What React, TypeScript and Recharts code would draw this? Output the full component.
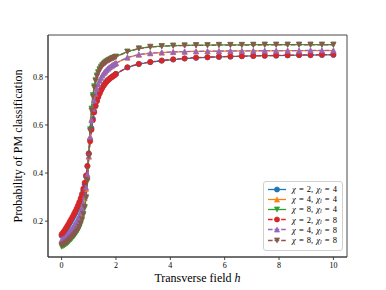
import React from "react";
import { LineChart, Line, XAxis, YAxis, ReferenceArea } from "recharts";

// transverse field h (dense sampling up to 2, then coarse)
const hValues = [
  0, 0.05, 0.1, 0.15, 0.2, 0.25, 0.3, 0.35, 0.4, 0.45, 0.5, 0.55, 0.6, 0.65, 0.7, 0.75, 0.8, 0.85, 0.9, 0.95,
  1, 1.05, 1.1, 1.15, 1.2, 1.25, 1.3, 1.35, 1.4, 1.45, 1.5, 1.55, 1.6, 1.65, 1.7, 1.75, 1.8, 1.85, 1.9, 1.95, 2,
  2.421, 2.842, 3.263, 3.684, 4.105, 4.526, 4.947, 5.368, 5.789, 6.211, 6.632, 7.053, 7.474, 7.895, 8.316,
  8.737, 9.158, 9.579, 10,
];

const chi2l4 = [
  0.14, 0.147, 0.155, 0.163, 0.172, 0.181, 0.191, 0.201, 0.211, 0.221, 0.232, 0.244, 0.257, 0.271, 0.287, 0.305,
  0.327, 0.353, 0.386, 0.428, 0.482, 0.538, 0.587, 0.626, 0.657, 0.682, 0.702, 0.719, 0.733, 0.746, 0.756, 0.765,
  0.773, 0.78, 0.786, 0.791, 0.796, 0.8, 0.804, 0.808, 0.812,
  0.839, 0.853, 0.861, 0.867, 0.872, 0.876, 0.879, 0.881, 0.883, 0.884, 0.886, 0.887, 0.888, 0.888, 0.889, 0.89,
  0.89, 0.891, 0.891,
];
const chi4l4 = [
  0.118, 0.122, 0.126, 0.131, 0.137, 0.144, 0.151, 0.158, 0.166, 0.175, 0.184, 0.193, 0.204, 0.216, 0.23, 0.247,
  0.268, 0.296, 0.334, 0.39, 0.468, 0.552, 0.624, 0.671, 0.705, 0.731, 0.752, 0.77, 0.785, 0.797, 0.807, 0.815,
  0.822, 0.829, 0.834, 0.839, 0.843, 0.847, 0.851, 0.854, 0.857,
  0.88, 0.892, 0.898, 0.901, 0.903, 0.905, 0.906, 0.906, 0.907, 0.907, 0.908, 0.908, 0.908, 0.908, 0.909, 0.909,
  0.909, 0.909, 0.909,
];
const chi8l4 = [
  0.094, 0.096, 0.099, 0.103, 0.107, 0.112, 0.118, 0.124, 0.13, 0.137, 0.144, 0.152, 0.161, 0.172, 0.186, 0.203,
  0.225, 0.254, 0.295, 0.365, 0.47, 0.582, 0.668, 0.724, 0.761, 0.787, 0.806, 0.82, 0.832, 0.842, 0.849, 0.855,
  0.86, 0.864, 0.868, 0.871, 0.874, 0.877, 0.879, 0.882, 0.884,
  0.905, 0.918, 0.925, 0.928, 0.93, 0.931, 0.932, 0.932, 0.933, 0.933, 0.933, 0.934, 0.934, 0.934, 0.934, 0.934,
  0.934, 0.934, 0.934,
];
const chi2l8 = [
  0.145, 0.152, 0.16, 0.169, 0.178, 0.188, 0.198, 0.208, 0.218, 0.229, 0.24, 0.252, 0.265, 0.279, 0.295, 0.313,
  0.335, 0.36, 0.39, 0.43, 0.48, 0.532, 0.58, 0.62, 0.652, 0.678, 0.699, 0.716, 0.731, 0.744, 0.755, 0.764,
  0.772, 0.779, 0.785, 0.79, 0.795, 0.799, 0.803, 0.807, 0.812,
  0.84, 0.854, 0.862, 0.868, 0.873, 0.877, 0.88, 0.882, 0.884, 0.885, 0.886, 0.887, 0.888, 0.889, 0.89, 0.891,
  0.891, 0.892, 0.893,
];
const chi4l8 = [
  0.122, 0.126, 0.13, 0.136, 0.142, 0.149, 0.156, 0.164, 0.172, 0.181, 0.19, 0.2, 0.21, 0.222, 0.237, 0.254,
  0.275, 0.303, 0.34, 0.395, 0.47, 0.55, 0.62, 0.667, 0.702, 0.729, 0.751, 0.769, 0.784, 0.796, 0.806, 0.815,
  0.822, 0.828, 0.834, 0.839, 0.843, 0.847, 0.851, 0.854, 0.857,
  0.881, 0.893, 0.899, 0.902, 0.904, 0.905, 0.906, 0.907, 0.907, 0.908, 0.908, 0.908, 0.909, 0.909, 0.909, 0.909,
  0.91, 0.91, 0.91,
];
const chi8l8 = [
  0.1, 0.102, 0.105, 0.109, 0.113, 0.118, 0.124, 0.13, 0.136, 0.142, 0.149, 0.157, 0.166, 0.177, 0.191, 0.208,
  0.23, 0.259, 0.3, 0.37, 0.47, 0.575, 0.66, 0.717, 0.755, 0.782, 0.801, 0.816, 0.828, 0.838, 0.846, 0.852,
  0.857, 0.862, 0.866, 0.869, 0.872, 0.875, 0.878, 0.88, 0.883,
  0.904, 0.917, 0.924, 0.927, 0.929, 0.93, 0.931, 0.931, 0.932, 0.932, 0.932, 0.932, 0.933, 0.933, 0.933, 0.933,
  0.933, 0.933, 0.933,
];

const xTicks = [0, 2, 4, 6, 8, 10];
const yTicks = [0.2, 0.4, 0.6, 0.8];

type Marker = "circle" | "up" | "down";

const series: { key: string; chi: number; chiL: number; color: string; marker: Marker; dashed: boolean; values: number[] }[] = [
  { key: "c2l4", chi: 2, chiL: 4, color: "#1f77b4", marker: "circle", dashed: false, values: chi2l4 },
  { key: "c4l4", chi: 4, chiL: 4, color: "#ff7f0e", marker: "up", dashed: false, values: chi4l4 },
  { key: "c8l4", chi: 8, chiL: 4, color: "#2ca02c", marker: "down", dashed: false, values: chi8l4 },
  { key: "c2l8", chi: 2, chiL: 8, color: "#d62728", marker: "circle", dashed: true, values: chi2l8 },
  { key: "c4l8", chi: 4, chiL: 8, color: "#9467bd", marker: "up", dashed: true, values: chi4l8 },
  { key: "c8l8", chi: 8, chiL: 8, color: "#8c564b", marker: "down", dashed: true, values: chi8l8 },
];

const data = hValues.map((h, i) => {
  const row: Record<string, number> = { h };
  for (const s of series) row[s.key] = s.values[i];
  return row;
});

const FONT = "'Liberation Serif', 'DejaVu Serif', serif";
const R = 2.6;

function markerShape(kind: Marker, cx: number, cy: number, color: string, key?: string | number) {
  if (kind === "circle") {
    return <circle key={key} cx={cx} cy={cy} r={R} fill={color} stroke={color} strokeWidth={0.6} />;
  }
  const d =
    kind === "up"
      ? `M${cx},${cy - R} L${cx - R},${cy + R} L${cx + R},${cy + R} Z`
      : `M${cx},${cy + R} L${cx - R},${cy - R} L${cx + R},${cy - R} Z`;
  return <path key={key} d={d} fill={color} stroke={color} strokeWidth={0.6} />;
}

function LegendBox() {
  return (
    <div
      style={{
        position: "absolute",
        left: 263,
        top: 181,
        width: 80,
        height: 70,
        border: "1px solid #d0d0d0",
        borderRadius: 3,
        background: "rgba(255,255,255,0.85)",
        padding: "2px 3px",
        fontFamily: FONT,
        fontSize: 8.5,
        wordSpacing: 1,
        color: "#000",
        boxSizing: "border-box",
      }}
    >
      {series.map((s) => (
        <div key={s.key} style={{ display: "flex", alignItems: "center", whiteSpace: "nowrap", height: 10.2 }}>
          <svg width={20} height={9} style={{ marginRight: 5, flexShrink: 0 }}>
            <line
              x1={1}
              x2={19}
              y1={4.5}
              y2={4.5}
              stroke={s.color}
              strokeWidth={1.3}
              strokeDasharray={s.dashed ? "4.6 2" : undefined}
            />
            {markerShape(s.marker, 10, 4.5, s.color)}
          </svg>
          <span>
            <i>χ</i> = {s.chi}, <i>χ</i>
            <sub style={{ fontSize: 6, verticalAlign: "-1px" }}>
              <i>l</i>
            </sub>{" "}
            = {s.chiL}
          </span>
        </div>
      ))}
    </div>
  );
}

export default function App() {
  const tick = { fill: "#000", fontSize: 8, fontFamily: FONT };
  return (
    <div style={{ position: "absolute", left: 0, top: 0, width: 386, height: 290, background: "#fff" }}>
      <LineChart width={386} height={290} data={data} margin={{ top: 35, right: 39, bottom: 3, left: 0 }}>
        <XAxis
          dataKey="h"
          type="number"
          domain={[-0.5, 10.5]}
          ticks={xTicks}
          tick={tick}
          tickSize={3}
          tickMargin={2}
          height={30}
          axisLine={{ stroke: "#333", strokeWidth: 0.9 }}
          tickLine={{ stroke: "#333", strokeWidth: 0.9 }}
          allowDataOverflow
        />
        <YAxis
          type="number"
          domain={[0.051, 0.974]}
          ticks={yTicks}
          tick={tick}
          tickSize={3}
          tickMargin={2}
          width={48}
          tickFormatter={(v: number) => v.toFixed(1)}
          axisLine={{ stroke: "#333", strokeWidth: 0.9 }}
          tickLine={{ stroke: "#333", strokeWidth: 0.9 }}
          allowDataOverflow
        />
        <ReferenceArea
          x1={-0.5}
          x2={10.5}
          y1={0.051}
          y2={0.974}
          fill="none"
          fillOpacity={0}
          stroke="#333"
          strokeWidth={0.9}
        />
        {series.map((s) => (
          <Line
            key={s.key}
            dataKey={s.key}
            type="linear"
            stroke={s.color}
            strokeWidth={1.3}
            strokeDasharray={s.dashed ? "4.6 2" : undefined}
            dot={(p: any) => markerShape(s.marker, p.cx, p.cy, s.color, `${s.key}-${p.index}`)}
            activeDot={false}
            isAnimationActive={false}
          />
        ))}
      </LineChart>
      <LegendBox />
      <div
        style={{
          position: "absolute",
          left: 48,
          width: 299,
          top: 271,
          textAlign: "center",
          fontFamily: FONT,
          fontSize: 12,
          color: "#000",
        }}
      >
        Transverse field <i>h</i>
      </div>
      <div
        style={{
          position: "absolute",
          left: 18,
          top: 146,
          transform: "translate(-50%, -50%) rotate(-90deg)",
          whiteSpace: "nowrap",
          fontFamily: FONT,
          fontSize: 12,
          color: "#000",
        }}
      >
        Probability of PM classification
      </div>
    </div>
  );
}
